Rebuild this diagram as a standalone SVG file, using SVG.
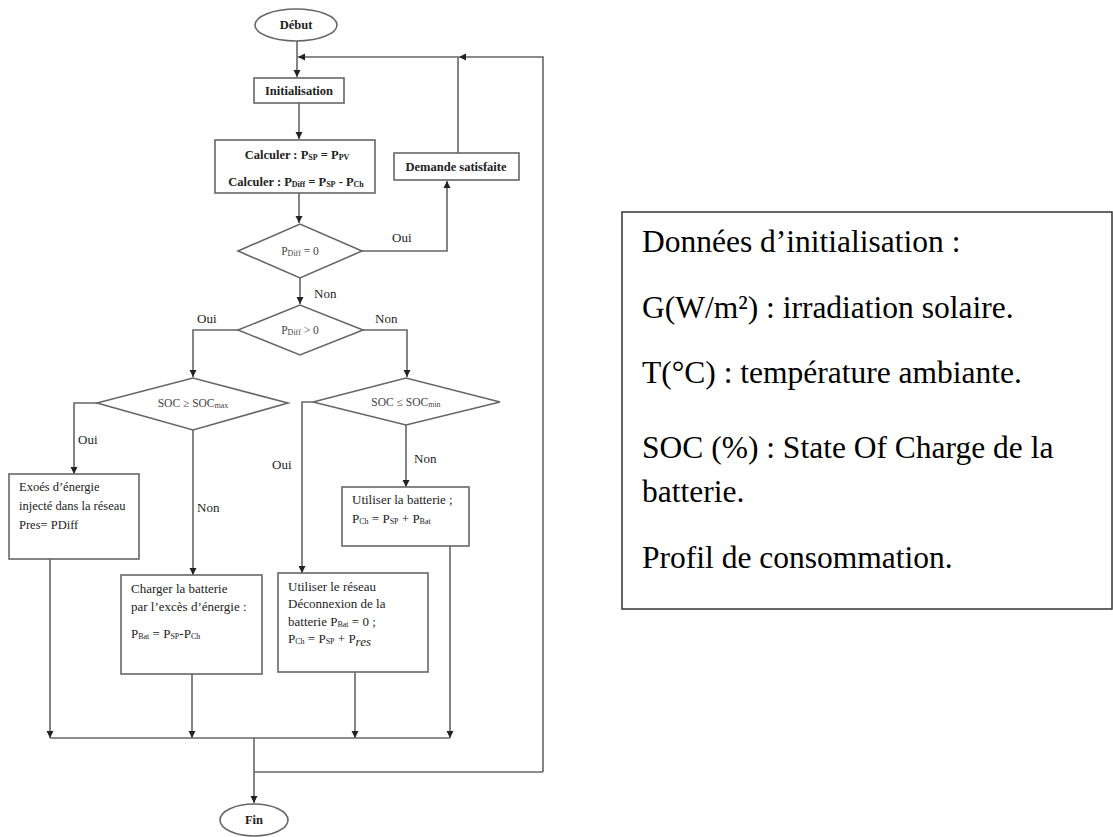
<svg xmlns="http://www.w3.org/2000/svg" width="1113" height="837" viewBox="0 0 1113 837">
<defs>
<marker id="ah" markerUnits="userSpaceOnUse" markerWidth="8" markerHeight="8" refX="7" refY="4" orient="auto">
<path d="M0,0.5 L7,4 L0,7.5 z" fill="#222"/>
</marker>
<style>
.sh{fill:#fff;stroke:#666;stroke-width:1.6}
.cn{fill:none;stroke:#666;stroke-width:1.6}
.t{font-family:"Liberation Serif","Times New Roman",serif;fill:#222}
.b{font-weight:bold;font-size:12.5px}
.r{font-size:13px}
.d{font-size:11.5px;fill:#444}
.s{font-size:8px}
.lg{font-size:31.5px;fill:#000}
</style>
</defs>
<rect width="1113" height="837" fill="#fff"/>

<g id="connectors">
<path class="cn" d="M297,41 V77" marker-end="url(#ah)"/>
<path class="cn" d="M543,772 V57 H459" marker-end="url(#ah)"/>
<path class="cn" d="M458,153 V57 H298" marker-end="url(#ah)"/>
<path class="cn" d="M299,103 V139" marker-end="url(#ah)"/>
<path class="cn" d="M299,193 V223" marker-end="url(#ah)"/>
<path class="cn" d="M362,251 H447 V181" marker-end="url(#ah)"/>
<path class="cn" d="M300,278 V304" marker-end="url(#ah)"/>
<path class="cn" d="M238,330 H193 V377" marker-end="url(#ah)"/>
<path class="cn" d="M363,330 H407 V377" marker-end="url(#ah)"/>
<path class="cn" d="M97,403 H74 V474" marker-end="url(#ah)"/>
<path class="cn" d="M193,430 V575" marker-end="url(#ah)"/>
<path class="cn" d="M313,402 H302 V573" marker-end="url(#ah)"/>
<path class="cn" d="M406,425 V487" marker-end="url(#ah)"/>
<path class="cn" d="M50,559 V738" marker-end="url(#ah)"/>
<path class="cn" d="M192,674 V738" marker-end="url(#ah)"/>
<path class="cn" d="M355,672 V738" marker-end="url(#ah)"/>
<path class="cn" d="M450,546 V738" marker-end="url(#ah)"/>
<path class="cn" d="M50,738 H450"/>
<path class="cn" d="M254,738 V803" marker-end="url(#ah)"/>
<path class="cn" d="M254,772 H543"/>
<text class="t r" x="392" y="242">Oui</text>
<text class="t r" x="314" y="298">Non</text>
<text class="t r" x="197" y="323">Oui</text>
<text class="t r" x="375" y="323">Non</text>
<text class="t r" x="78" y="444">Oui</text>
<text class="t r" x="197" y="512">Non</text>
<text class="t r" x="272" y="469">Oui</text>
<text class="t r" x="414" y="463">Non</text>
</g>

<g id="debut">
<ellipse class="sh" cx="296" cy="25" rx="41" ry="16"/>
<text class="t b" x="296" y="29" text-anchor="middle" font-size="11px">Début</text>
</g>

<g id="initialisation">
<rect class="sh" x="254" y="78" width="90" height="25"/>
<text class="t b" x="299" y="95" text-anchor="middle">Initialisation</text>
</g>

<g id="calculer">
<rect class="sh" x="215" y="140" width="160" height="53"/>
<text class="t b" x="297" y="159" text-anchor="middle">Calculer : P<tspan class="s" dy="1">SP</tspan><tspan dy="-1"> = P</tspan><tspan class="s" dy="1">PV</tspan></text>
<text class="t b" x="296" y="186" text-anchor="middle">Calculer : P<tspan class="s" dy="1">Diff</tspan><tspan dy="-1"> = P</tspan><tspan class="s" dy="1">SP</tspan><tspan dy="-1"> - P</tspan><tspan class="s" dy="1">Ch</tspan></text>
</g>

<g id="demande">
<rect class="sh" x="394" y="153" width="125" height="27"/>
<text class="t b" x="456" y="171" text-anchor="middle">Demande satisfaite</text>
</g>

<g id="d1">
<polygon class="sh" points="238,251 300,224 362,251 300,278"/>
<text class="t d" x="300" y="255" text-anchor="middle">P<tspan class="s" dy="1">Diff</tspan><tspan dy="-1"> = 0</tspan></text>
</g>

<g id="d2">
<polygon class="sh" points="238,330 300,305 363,330 300,355"/>
<text class="t d" x="300" y="334" text-anchor="middle">P<tspan class="s" dy="1">Diff</tspan><tspan dy="-1"> &gt; 0</tspan></text>
</g>

<g id="d3">
<polygon class="sh" points="97,403 193,378 288,403 193,430"/>
<text class="t d" x="193" y="407" text-anchor="middle">SOC ≥ SOC<tspan class="s" dy="1">max</tspan></text>
</g>

<g id="d4">
<polygon class="sh" points="313,402 406,378 500,402 406,425"/>
<text class="t d" x="406" y="406" text-anchor="middle">SOC ≤ SOC<tspan class="s" dy="1">min</tspan></text>
</g>

<g id="box1">
<rect class="sh" x="9" y="474" width="130" height="85"/>
<text class="t" font-size="12.5px" x="19" y="491">Exoés d’énergie</text>
<text class="t" font-size="12.5px" x="19" y="510">injecté dans la réseau</text>
<text class="t" font-size="12.5px" x="19" y="529">Pres= PDiff</text>
</g>

<g id="box2">
<rect class="sh" x="121" y="575" width="141" height="99"/>
<text class="t r" x="131" y="593">Charger la batterie</text>
<text class="t r" x="131" y="611">par l’excès d’énergie :</text>
<text class="t r" x="131" y="638">P<tspan class="s" dy="1">Bat</tspan><tspan dy="-1"> = P</tspan><tspan class="s" dy="1">SP</tspan><tspan dy="-1">-P</tspan><tspan class="s" dy="1">Ch</tspan></text>
</g>

<g id="box3">
<rect class="sh" x="278" y="573" width="150" height="99"/>
<text class="t r" x="288" y="591">Utiliser le réseau</text>
<text class="t r" x="288" y="608">Déconnexion de la</text>
<text class="t r" x="288" y="626">batterie P<tspan class="s" dy="1">Bat</tspan><tspan dy="-1"> = 0 ;</tspan></text>
<text class="t r" x="288" y="643">P<tspan class="s" dy="1">Ch</tspan><tspan dy="-1"> = P</tspan><tspan class="s" dy="1">SP</tspan><tspan dy="-1"> + P</tspan><tspan font-style="italic" font-size="13px" dy="3">res</tspan></text>
</g>

<g id="box4">
<rect class="sh" x="342" y="487" width="127" height="59"/>
<text class="t r" x="352" y="504">Utiliser la batterie ;</text>
<text class="t r" x="352" y="523">P<tspan class="s" dy="1">Ch</tspan><tspan dy="-1"> = P</tspan><tspan class="s" dy="1">SP</tspan><tspan dy="-1"> + P</tspan><tspan class="s" dy="1">Bat</tspan></text>
</g>

<g id="fin">
<ellipse class="sh" cx="254" cy="820" rx="34" ry="16"/>
<text class="t b" x="254" y="824" text-anchor="middle" font-size="11px">Fin</text>
</g>

<g id="legend">
<rect x="622" y="212" width="490" height="397" fill="#fff" stroke="#333" stroke-width="1.5"/>
<text class="t lg" x="642" y="252">Données d’initialisation :</text>
<text class="t lg" x="642" y="318">G(W/m²) : irradiation solaire.</text>
<text class="t lg" x="642" y="383">T(°C) : température ambiante.</text>
<text class="t lg" x="642" y="458">SOC (%) : State Of Charge de la</text>
<text class="t lg" x="642" y="502">batterie.</text>
<text class="t lg" x="642" y="568">Profil de consommation.</text>
</g>
</svg>
